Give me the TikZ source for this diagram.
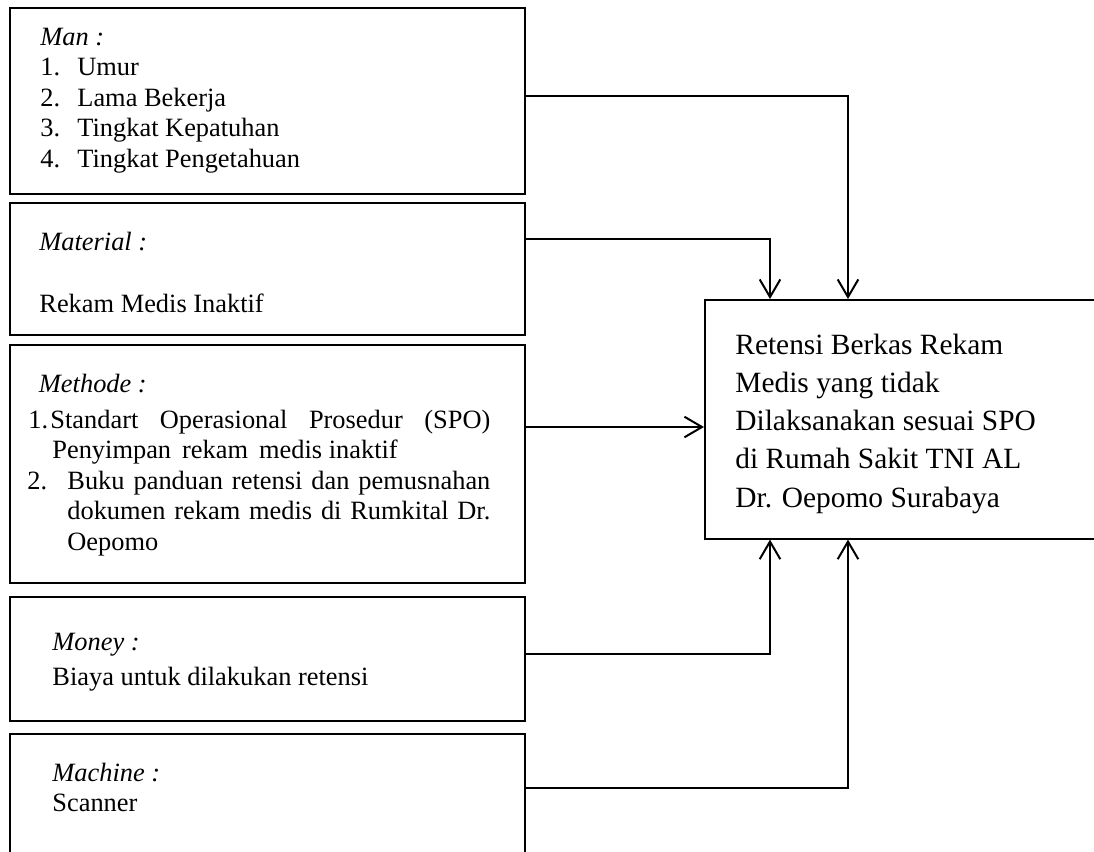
\documentclass[tikz,border=0pt]{standalone}
\usepackage{fontspec}
\setmainfont{Liberation Serif}
\usetikzlibrary{arrows.meta,calc}

\newcommand{\lftfont}{\fontsize{13.2pt}{15.25pt}\selectfont}
\newcommand{\rgtfont}{\fontsize{14.7pt}{19.15pt}\selectfont}
\newcommand{\itemnum}[1]{\makebox[18.5pt][l]{#1}}

\begin{document}
\begin{tikzpicture}[x=0.5pt, y=-0.5pt,
    box/.style={draw, line width=0.8pt, inner sep=0pt, anchor=north west, minimum width=257.5pt},
    txt/.style={inner sep=0pt, anchor=base west, font=\lftfont},
    arr/.style={->, line width=1pt},
    >={Straight Barb[length=8.8pt,width=10.3pt]}]
    \useasboundingbox (0,0) rectangle (1094,852);
    \clip (0,0) rectangle (1094,852);

    % the five factors
    \node[box, minimum height=93pt] (man) at (9,7) {};
    \node[box, minimum height=66pt] (material) at (9,202) {};
    \node[box, minimum height=119pt] (methode) at (9,344) {};
    \node[box, minimum height=62pt] (money) at (9,596) {};
    \node[box, minimum height=63.5pt] (machine) at (9,733) {};

    \node[txt] (mantxt) at (40,45) {\parbox[t]{220pt}{\textit{Man :}\\
        \itemnum{1.}Umur\\
        \itemnum{2.}Lama Bekerja\\
        \itemnum{3.}Tingkat Kepatuhan\\
        \itemnum{4.}Tingkat Pengetahuan}};
    \node[txt] (materialtxt) at (39,250) {\parbox[t]{220pt}{\textit{Material :}\\[15.75pt]
        Rekam Medis Inaktif}};
    \node[txt] (methodetxt) at (27,392) {\parbox[t]{231.5pt}{%
        \hspace*{5.8pt}\textit{Methode :}\par\vspace{2.75pt}
        {\hangindent=12.5pt\hangafter=1\hspace*{0.5pt}\makebox[11pt][l]{1.}Standart Operasional Prosedur (SPO)\linebreak
        Penyimpan\, rekam\, medis inaktif\par}
        {\hangindent=20pt\hangafter=1\makebox[20pt][l]{2.}Buku panduan retensi dan pemusnahan\linebreak
        dokumen rekam medis di Rumkital Dr.\linebreak
        Oepomo\par}}};
    \node[txt] (moneytxt) at (52,650) {\parbox[t]{220pt}{\textit{Money :}\\[2.25pt]
        Biaya untuk dilakukan retensi}};
    \node[txt] (machinetxt) at (52,781) {\parbox[t]{220pt}{\textit{Machine :}\\
        Scanner}};

    % the result
    \node[box, minimum width=198pt, minimum height=119.5pt] (retensi) at (704,299) {};
    \node[txt, font=\rgtfont] (retensitxt) at (735,354) {\parbox[t]{175pt}{Retensi Berkas Rekam\\
        Medis yang tidak\\
        Dilaksanakan sesuai SPO\\
        di Rumah Sakit TNI AL\\
        Dr. Oepomo Surabaya}};

    % connectors
    \draw[arr] ([yshift=-44.5pt]man.north east) -| ([xshift=72pt]retensi.north west);
    \draw[arr] ([yshift=-18.5pt]material.north east) -| ([xshift=33pt]retensi.north west);
    \draw[arr] ([yshift=-41.5pt]methode.north east) -- ([yshift=-64pt]retensi.north west);
    \draw[arr] ([yshift=-29pt]money.north east) -| ([xshift=33pt]retensi.south west);
    \draw[arr] ([yshift=-27.5pt]machine.north east) -| ([xshift=72pt]retensi.south west);
\end{tikzpicture}
\end{document}
